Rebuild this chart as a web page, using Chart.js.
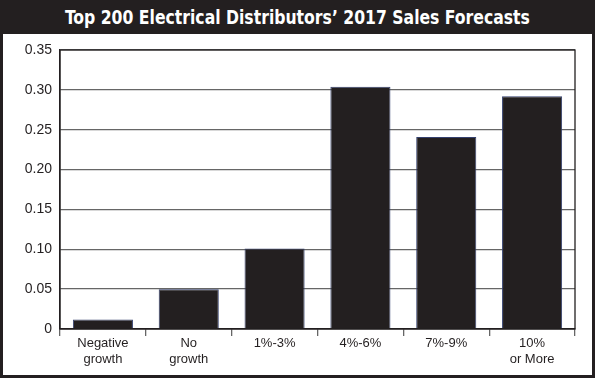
<!DOCTYPE html>
<html>
<head>
<meta charset="utf-8">
<script src="https://cdn.jsdelivr.net/npm/chart.js@4/dist/chart.umd.min.js"></script>
<style>
  html, body { margin: 0; padding: 0; }
  body { width: 595px; height: 378px; background: #231f20; position: relative; overflow: hidden; }
  #title { position: absolute; left: 0; top: 0; width: 595px; height: 34px; line-height: 34px;
    text-align: center; color: #fff; font-family: "Liberation Sans Narrow", "DejaVu Sans Condensed", sans-serif;
    font-weight: bold; font-size: 20px; transform: scaleX(0.87); transform-origin: 297px 17px; }
  #panel { position: absolute; left: 3px; top: 34px; width: 589px; height: 341px; background: #fff; }
  #wrap { position: absolute; left: 0; top: 0; width: 595px; height: 378px; }
</style>
</head>
<body>
<div id="title">Top 200 Electrical Distributors’ 2017 Sales Forecasts</div>
<div id="panel"></div>
<div id="wrap"><canvas id="c" width="595" height="378"></canvas></div>
<script>
const categories = [["Negative", "growth"], ["No", "growth"], "1%-3%", "4%-6%", "7%-9%", ["10%", "or More"]];
const values = [0.012, 0.05, 0.101, 0.304, 0.241, 0.292];
const yTicks = [0, 0.05, 0.10, 0.15, 0.20, 0.25, 0.30, 0.35];

const frame = {
  id: 'frame',
  afterDraw(chart) {
    const a = chart.chartArea, ctx = chart.ctx;
    ctx.save();
    ctx.strokeStyle = '#231f20';
    ctx.lineWidth = 1.3;
    ctx.strokeRect(a.left, a.top, a.right - a.left, a.bottom - a.top);
    ctx.restore();
  }
};

new Chart(document.getElementById('c'), {
  type: 'bar',
  data: {
    labels: categories,
    datasets: [{
      data: values,
      backgroundColor: '#231f20',
      borderColor: '#34406e',
      borderWidth: 1,
      barPercentage: 0.7,
      categoryPercentage: 1
    }]
  },
  options: {
    responsive: false,
    animation: false,
    devicePixelRatio: 1,
    layout: { padding: { left: 0, right: 20, top: 50, bottom: 4 } },
    plugins: { legend: { display: false }, tooltip: { enabled: false } },
    scales: {
      x: {
        grid: { offset: true, drawOnChartArea: false, drawTicks: true, tickLength: 7, color: '#666', lineWidth: 1.3 },
        border: { color: '#231f20', width: 1.3 },
        ticks: { color: '#231f20', font: { family: 'Liberation Sans, Arial, sans-serif', size: 13 }, padding: 0, maxRotation: 0, autoSkip: false },
        afterFit(s) { s.height = 45; }
      },
      y: {
        min: 0, max: 0.35,
        afterBuildTicks(s) { s.ticks = yTicks.map(v => ({ value: v })); },
        grid: { drawTicks: false, color: '#666', lineWidth: 1.3 },
        border: { color: '#231f20', width: 1.3 },
        ticks: {
          color: '#231f20', font: { family: 'Liberation Sans, Arial, sans-serif', size: 14 }, padding: 8,
          callback: v => v === 0 ? '0' : v.toFixed(2)
        },
        afterFit(s) { s.width = 60; }
      }
    }
  },
  plugins: [frame]
});
</script>
</body>
</html>
